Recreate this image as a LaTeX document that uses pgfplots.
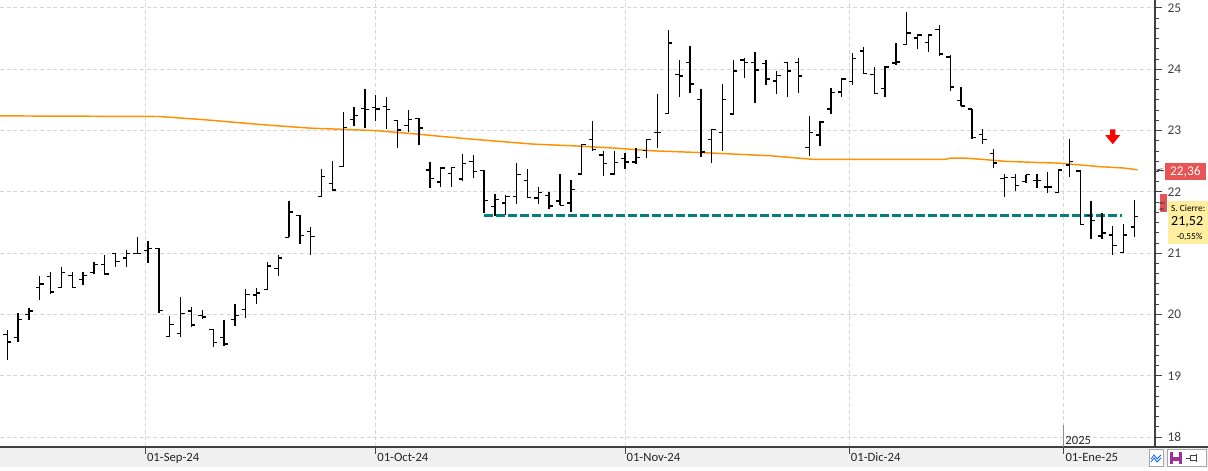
\documentclass[border=0pt]{standalone}
\usepackage{fontspec}
\setmainfont{Carlito}
\usepackage{pgfplots}
\usepackage{pgfplotstable}
\pgfplotsset{compat=1.18}

\definecolor{ma}{RGB}{255,145,0}
\definecolor{sup}{RGB}{0,128,128}
\definecolor{gridc}{RGB}{215,215,215}
\definecolor{axc}{RGB}{64,64,64}
\definecolor{band}{RGB}{240,240,240}
\definecolor{tagred}{RGB}{232,84,84}
\definecolor{tagyel}{RGB}{255,238,160}

% open tick (left) and close tick (right)
\pgfdeclareplotmark{otick}{\pgfpathmoveto{\pgfqpoint{-2.9pt}{0pt}}\pgfpathlineto{\pgfqpoint{0.3pt}{0pt}}\pgfusepathqstroke}
\pgfdeclareplotmark{ctick}{\pgfpathmoveto{\pgfqpoint{-0.3pt}{0pt}}\pgfpathlineto{\pgfqpoint{2.9pt}{0pt}}\pgfusepathqstroke}
\pgfdeclareplotmark{dnarrow}{%
  \pgfpathmoveto{\pgfqpoint{-1.9pt}{5.6pt}}%
  \pgfpathlineto{\pgfqpoint{1.9pt}{5.6pt}}%
  \pgfpathlineto{\pgfqpoint{1.9pt}{1.2pt}}%
  \pgfpathlineto{\pgfqpoint{5.6pt}{1.2pt}}%
  \pgfpathlineto{\pgfqpoint{0pt}{-5.6pt}}%
  \pgfpathlineto{\pgfqpoint{-5.6pt}{1.2pt}}%
  \pgfpathlineto{\pgfqpoint{-1.9pt}{1.2pt}}%
  \pgfpathclose\pgfusepathqfill}

\pgfplotstableread{
i o h l c
0 19.68 19.75 19.26 19.55
1 19.63 20.02 19.56 19.92
2 20.00 20.10 19.91 20.06
3 20.44 20.63 20.23 20.50
4 20.62 20.70 20.33 20.37
5 20.44 20.78 20.44 20.69
6 20.64 20.70 20.44 20.44
7 20.57 20.70 20.48 20.64
8 20.69 20.86 20.66 20.82
9 20.82 20.97 20.66 20.66
10 21.00 21.00 20.78 20.87
11 20.92 21.05 20.78 21.00
12 21.00 21.27 21.00 21.00
13 21.05 21.20 20.84 21.08
14 21.08 21.08 20.02 20.07
15 19.64 19.98 19.63 19.84
16 19.69 20.28 19.63 20.02
17 20.06 20.12 19.79 19.83
18 19.99 20.08 19.92 19.96
19 19.76 19.77 19.47 19.54
20 19.63 19.91 19.49 19.52
21 19.92 20.18 19.81 19.99
22 20.08 20.41 19.95 20.33
23 20.32 20.43 20.18 20.35
24 20.41 20.86 20.40 20.79
25 20.75 20.97 20.63 20.92
26 21.26 21.85 21.26 21.67
27 21.62 21.62 21.15 21.29
28 21.35 21.43 20.97 21.27
29 21.92 22.38 21.92 22.25
30 22.14 22.50 22.03 22.03
31 22.41 23.30 22.41 23.05
32 23.18 23.38 23.08 23.25
33 23.36 23.68 23.05 23.34
34 23.38 23.58 23.15 23.35
35 23.39 23.55 23.03 23.34
36 23.16 23.17 22.72 23.01
37 23.08 23.34 22.97 23.18
38 23.20 23.20 22.77 23.04
39 22.36 22.49 22.06 22.22
40 22.16 22.40 22.08 22.39
41 22.30 22.41 22.08 22.40
42 22.21 22.62 22.17 22.46
43 22.50 22.60 22.22 22.33
44 22.35 22.35 21.66 21.86
45 21.76 21.97 21.61 21.88
46 21.82 21.95 21.62 21.93
47 21.92 22.47 21.81 22.28
48 22.19 22.37 21.90 21.91
49 21.90 22.08 21.80 21.99
50 21.94 22.00 21.72 21.77
51 21.85 22.29 21.78 21.78
52 21.82 22.19 21.68 22.04
53 22.29 22.77 22.29 22.77
54 22.86 23.15 22.67 22.69
55 22.60 22.66 22.26 22.46
56 22.29 22.67 22.29 22.48
57 22.55 22.63 22.38 22.49
58 22.49 22.71 22.46 22.56
59 22.68 22.87 22.56 22.85
60 22.97 23.60 22.72 22.97
61 23.28 24.64 23.28 24.43
62 23.91 24.15 23.54 23.89
63 24.11 24.38 23.62 23.76
64 23.51 23.68 22.57 22.65
65 22.85 23.03 22.47 23.02
66 22.97 23.76 22.67 23.51
67 23.27 24.15 23.27 23.97
68 24.15 24.18 23.85 24.11
69 24.11 24.28 23.45 23.99
70 24.09 24.15 23.74 23.84
71 23.81 23.97 23.59 23.90
72 24.11 24.12 23.54 23.97
73 24.11 24.18 23.62 23.89
74 22.72 23.24 22.59 22.97
75 22.93 23.16 22.75 23.14
76 23.35 23.70 23.27 23.62
77 23.63 23.84 23.55 23.84
78 23.80 24.27 23.74 24.18
79 24.30 24.37 23.92 23.93
80 23.92 24.04 23.59 23.61
81 23.69 24.06 23.54 24.04
82 24.10 24.43 24.07 24.12
83 24.40 24.93 24.40 24.59
84 24.51 24.56 24.33 24.56
85 24.44 24.57 24.28 24.56
86 24.65 24.72 24.21 24.25
87 24.20 24.23 23.65 23.71
88 23.49 23.71 23.40 23.40
89 23.35 23.35 22.87 22.89
90 22.94 23.03 22.78 22.86
91 22.63 22.70 22.39 22.47
92 22.22 22.29 21.92 22.24
93 22.24 22.30 22.02 22.11
94 22.17 22.28 22.15 22.28
95 22.19 22.29 22.07 22.19
96 22.08 22.32 21.99 22.08
97 21.99 22.36 21.99 22.36
98 22.44 22.86 22.25 22.50
99 22.34 22.34 21.47 21.47
100 21.62 21.85 21.23 21.53
101 21.28 21.65 21.24 21.33
102 21.30 21.44 20.97 21.13
103 21.01 21.47 21.01 21.30
104 21.43 21.87 21.27 21.60
}\ohlc

\begin{document}
\begin{tikzpicture}
\def\px{0.75pt}
\useasboundingbox (0,0) rectangle ({1208*\px},{471*\px});
\fill[band] (0,{4*\px}) rectangle ({1208*\px},{24*\px});
\begin{axis}[
  at={(0pt,18pt)}, anchor=south west,
  width=866.25pt, height=335.25pt, scale only axis,
  xmin=-0.67, xmax=105.9, ymin=17.84, ymax=25.13,
  clip=false,
  axis x line*=bottom, axis y line*=right,
  axis line style={-, draw=axc, line width=0.8pt},
  xtick={12.75,34,57,77.7,97.5},
  xticklabels={01-Sep-24,01-Oct-24,01-Nov-24,01-Dic-24,01-Ene-25},
  ytick={18,19,...,25}, minor y tick num=5,
  tick align=outside, major tick length=5pt, minor tick length=3pt,
  tick style={axc, line width=0.75pt},
  xmajorgrids, ymajorgrids,
  major grid style={gridc, dash pattern=on 3pt off 2pt, line width=0.75pt},
  /pgf/number format/assume math mode=true,
  yticklabel style={font=\fontsize{10}{11}\selectfont, text=axc, xshift=1pt},
  xticklabel style={font=\fontsize{9.5}{10}\selectfont, anchor=north west, inner sep=0.5pt, xshift=0.5pt, yshift=1pt, text=black!85},
]
% 200-session moving average
\addplot[ma, line width=1.1pt] coordinates {
 (-0.67,23.24) (14,23.23) (18,23.18) (24,23.09) (28,23.04) (32.5,23.01) (34,23.00)
 (38,22.94) (41,22.89) (43.6,22.85) (48.5,22.78) (52.5,22.75) (56.5,22.71) (59.6,22.67)
 (64.2,22.64) (70.4,22.59) (74.4,22.53) (86.5,22.53) (87,22.55) (88.5,22.55) (90,22.53)
 (92,22.50) (95,22.48) (97,22.47) (99,22.44) (101,22.41) (103,22.39) (104.3,22.36)};
% support line
\addplot[sup, line width=2pt, dash pattern=on 6.5pt off 2.5pt] coordinates {(44,21.62) (102.9,21.62)};
% OHLC bars: high-low range, then open and close ticks
\addplot[draw=none, mark=none, forget plot,
  error bars/.cd, y dir=plus, y explicit, error mark=none,
  error bar style={draw=black, line width=1pt, solid}]
  table[x=i, y=l, y error expr=\thisrow{h}-\thisrow{l}] {\ohlc};
\addplot[black, only marks, mark=otick, mark options={line width=1pt}] table[x=i, y=o] {\ohlc};
\addplot[black, only marks, mark=ctick, mark options={line width=1pt}] table[x=i, y=c] {\ohlc};
% signal arrow
\addplot[red, only marks, mark=dnarrow] coordinates {(102.0,22.90)};
% year marker
\draw[black!45, line width=0.75pt] (axis cs:97.5,18.2) -- (axis cs:97.5,17.84);
\node[anchor=south west, inner sep=0.5pt, font=\fontsize{9.5}{10}\selectfont, text=black!85] at (axis cs:97.55,17.86) {2025};
% right tags
\node[fill=tagred, text=white, minimum width=30.75pt, minimum height=12.75pt, inner sep=0pt, font=\fontsize{10}{11}\selectfont] at (axis cs:108.7,22.33) {22,36};
\fill[tagred] (axis cs:106.4,21.97) rectangle (axis cs:107.0,21.68);
\node[fill=tagyel, minimum width=30.75pt, minimum height=32.25pt, inner sep=1pt, align=left, anchor=west, font=\fontsize{7}{10.5}\selectfont] at (axis cs:107.05,21.50)
  {S. Cierre:\\{\fontsize{10.5}{10.5}\selectfont 21,52}\\\hspace*{4pt}-0,55\%};
\draw[axc, line width=0.5pt] (axis cs:106.6,22.34) -- (axis cs:106.1,22.36) -- (axis cs:106.6,22.38);
\draw[axc, line width=0.4pt] (axis cs:106.05,22.36) -- (axis cs:106.7,22.36);
\draw[axc, line width=0.4pt] (axis cs:106.8,21.80) -- (axis cs:106.3,21.82) -- (axis cs:106.8,21.84);
\draw[axc, line width=0.4pt] (axis cs:106.8,21.70) -- (axis cs:106.3,21.72) -- (axis cs:106.8,21.74);
\end{axis}
\draw[axc, line width=0.8pt] ({1155*\px},{24*\px}) -- ({1208*\px},{24*\px});
% toolbar buttons
\draw[black!35, fill=white, line width=0.5pt] ({1149*\px},{5*\px}) rectangle ({1163*\px},{22*\px});
\draw[blue!60!cyan, line width=0.6pt] ({1151*\px},{12*\px}) -- ({1154*\px},{16*\px}) -- ({1157*\px},{12*\px}) -- ({1161*\px},{16*\px});
\draw[blue!60!cyan, line width=0.6pt] ({1151*\px},{9*\px}) -- ({1154*\px},{13*\px}) -- ({1157*\px},{9*\px}) -- ({1161*\px},{13*\px});
\draw[black!35, fill=white, line width=0.5pt] ({1167*\px},{5*\px}) rectangle ({1206*\px},{22*\px});
\fill[violet!80] ({1170*\px},{7*\px}) rectangle ({1182*\px},{19*\px});
\fill[white] ({1173*\px},{14*\px}) rectangle ({1179*\px},{19*\px});
\fill[white] ({1173*\px},{7*\px}) rectangle ({1179*\px},{10*\px});
\draw[axc, line width=0.6pt] ({1186*\px},{13*\px}) -- ({1190*\px},{13*\px});
\draw[axc, line width=0.6pt] ({1190*\px},{10.5*\px}) rectangle ({1196*\px},{15.5*\px});
\draw[axc, line width=0.6pt] ({1196*\px},{9*\px}) -- ({1196*\px},{17*\px});
\end{tikzpicture}
\end{document}
